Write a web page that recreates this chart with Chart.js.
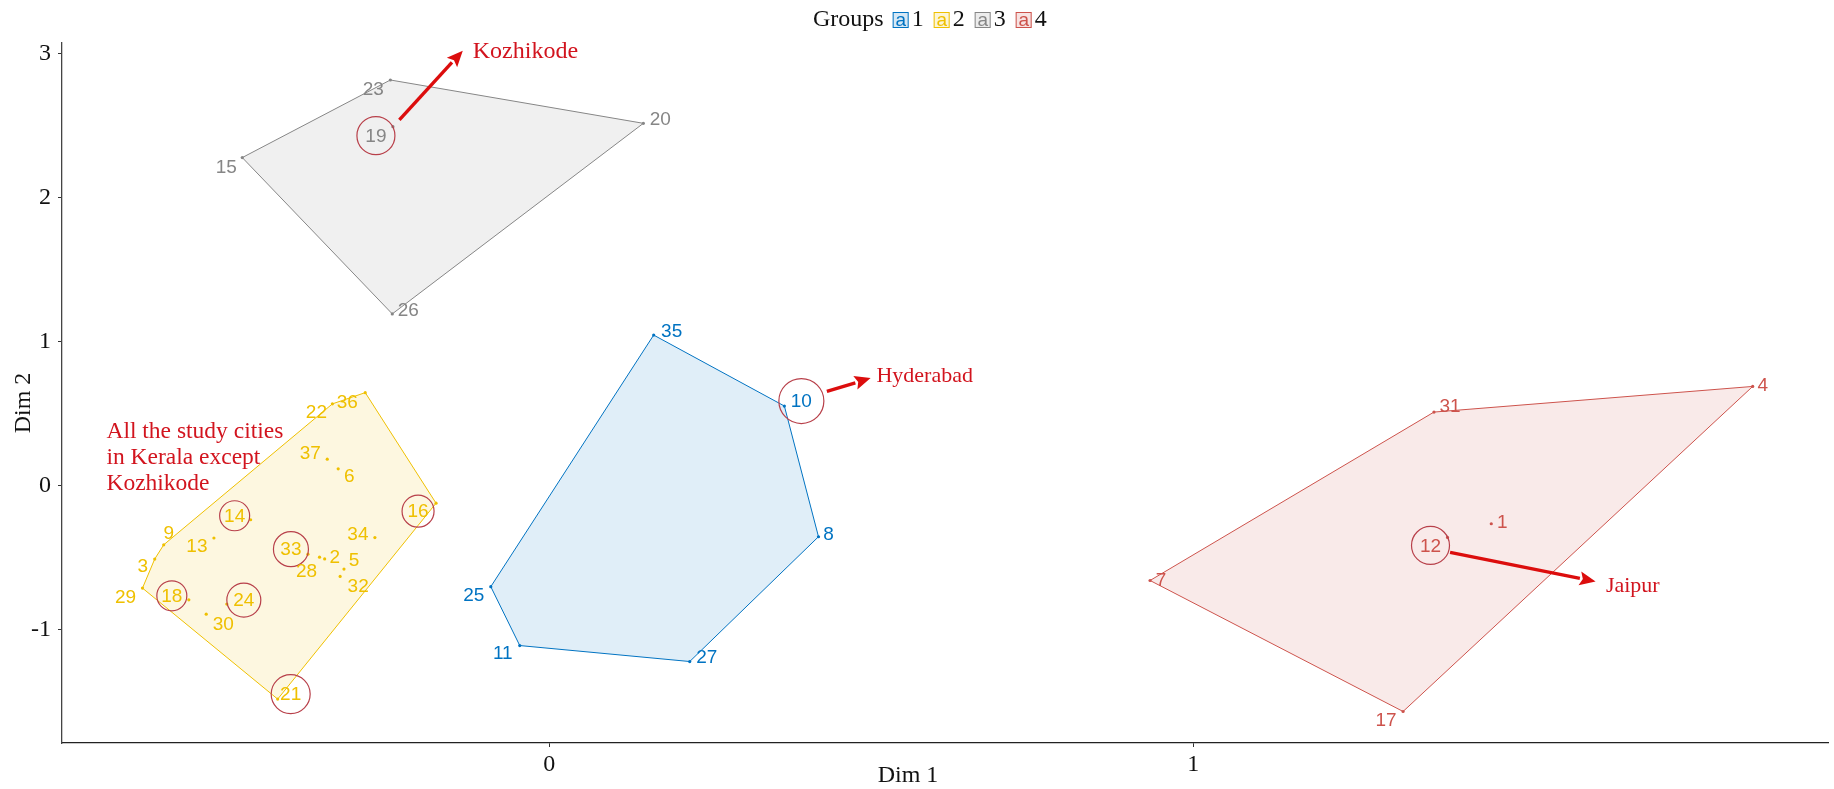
<!DOCTYPE html>
<html>
<head>
<meta charset="utf-8">
<script src="https://cdn.jsdelivr.net/npm/chart.js@4.4.0/dist/chart.umd.min.js"></script>
<style>
  html, body { margin: 0; padding: 0; background: #ffffff; }
  #wrap { width: 1834px; height: 789px; position: relative; }
</style>
</head>
<body>
<div id="wrap"><canvas id="c"></canvas></div>
<script>
// ---- Cluster members: city id, Dim 1, Dim 2 ----
const g1Ids  = [35, 10, 8, 27, 11, 25];
const g1Dim1 = [0.162, 0.365, 0.418, 0.218, -0.046, -0.091];
const g1Dim2 = [1.047, 0.554, -0.354, -1.221, -1.110, -0.701];
const g1Hull = [35, 10, 8, 27, 11, 25];

const g2Ids  = [22, 36, 37, 6, 16, 14, 34, 13, 9, 33, 28, 2, 5, 32, 3, 29, 18, 24, 30, 21];
const g2Dim1 = [-0.337, -0.286, -0.345, -0.328, -0.176, -0.464, -0.271, -0.521, -0.599, -0.375,
                -0.357, -0.349, -0.319, -0.325, -0.613, -0.632, -0.560, -0.501, -0.533, -0.422];
const g2Dim2 = [0.569, 0.647, 0.185, 0.118, -0.121, -0.236, -0.360, -0.363, -0.410, -0.475,
                -0.496, -0.508, -0.579, -0.630, -0.509, -0.711, -0.792, -0.822, -0.892, -1.482];
const g2Hull = [29, 3, 9, 22, 36, 16, 21];

const g3Ids  = [23, 20, 19, 15, 26];
const g3Dim1 = [-0.247, 0.146, -0.243, -0.477, -0.244];
const g3Dim2 = [2.819, 2.518, 2.495, 2.280, 1.194];
const g3Hull = [15, 23, 20, 26];

const g4Ids  = [4, 31, 1, 12, 7, 17];
const g4Dim1 = [1.869, 1.374, 1.463, 1.395, 0.933, 1.326];
const g4Dim2 = [0.690, 0.512, -0.264, -0.359, -0.658, -1.568];
const g4Hull = [7, 31, 4, 17];

const groupNames = ['1', '2', '3', '4'];
const xTickValues = [0, 1];
const yTickValues = [-1, 0, 1, 2, 3];
const xRange = [-0.757, 1.986];
const yRange = [-1.787, 3.076];

// Cities singled out with a ring
const circledIds = [19, 10, 14, 33, 16, 18, 24, 21, 12];

// Callouts: arrow from (x0,y0) to (x1,y1) in data units, caption at (tx,ty)
const calloutText = ['Kozhikode', 'Hyderabad', 'Jaipur'];
const calloutFrom = [[-0.233, 2.542], [0.431, 0.655], [1.399, -0.463]];
const calloutTo   = [[-0.1345, 3.023], [0.499, 0.748], [1.625, -0.665]];
const calloutAt   = [[-0.119, 3.016], [0.508, 0.759], [1.641, -0.699]];
const noteLines = ['All the study cities', 'in Kerala except', 'Kozhikode'];
const noteAt = [-0.688, 0.373];

// ---- Styling ----
const palette = ['#0073C2', '#EFC000', '#868686', '#CD534C'];
const fillAlpha = 0.12;
const labelFont = '19px "Liberation Sans", Arial, sans-serif';
const serif = '"Liberation Serif", "Times New Roman", serif';
const calloutSize = [24, 22, 22];
const noteSize = 23.5;
const noteRed = '#d2141e';
const ringColor = '#b8404a';

// label placement relative to the point (px), repelled away from neighbours
const labelNudge = {
  22: [-16, 8], 36: [-18, 9], 37: [-17, -6], 6: [11, 7], 16: [-18, 8], 14: [-16, -4],
  34: [-17, -4], 13: [-17, 8], 9: [5, -12], 33: [-17, -5], 28: [-13, 14], 2: [10, -2],
  5: [10, -9], 32: [18, 9], 3: [-12, 7], 29: [-17, 9], 18: [-17, -4], 24: [17, -4],
  30: [17, 10], 21: [13, -5],
  23: [-17, 9], 20: [17, -5], 19: [-17, 9], 15: [-16, 9], 26: [16, -4],
  35: [18, -4], 10: [17, -5], 8: [10, -3], 27: [17, -5], 11: [-17, 7], 25: [-17, 8],
  4: [10, -2], 31: [16, -6], 1: [11, -2], 12: [-17, 8], 7: [11, -1], 17: [-17, 8]
};
const ringRadius = { 19: 19, 10: 22.5, 14: 15, 33: 17.5, 16: 16, 18: 15, 24: 17, 21: 19.5, 12: 19 };

function hexA(hex, a) {
  const n = parseInt(hex.slice(1), 16);
  return `rgba(${(n >> 16) & 255},${(n >> 8) & 255},${n & 255},${a})`;
}

const groups = [
  { ids: g1Ids, d1: g1Dim1, d2: g1Dim2, hull: g1Hull },
  { ids: g2Ids, d1: g2Dim1, d2: g2Dim2, hull: g2Hull },
  { ids: g3Ids, d1: g3Dim1, d2: g3Dim2, hull: g3Hull },
  { ids: g4Ids, d1: g4Dim1, d2: g4Dim2, hull: g4Hull }
];

const datasets = [];
groups.forEach((g, i) => {
  const pts = g.ids.map((id, k) => ({ x: g.d1[k], y: g.d2[k], id }));
  const hullPts = g.hull.map(id => pts.find(p => p.id === id));
  hullPts.push(hullPts[0]);
  datasets.push({
    type: 'line',
    label: 'hull ' + groupNames[i],
    data: hullPts,
    borderColor: palette[i],
    borderWidth: 1,
    backgroundColor: hexA(palette[i], fillAlpha),
    fill: 'shape',
    pointRadius: 0,
    tension: 0,
    order: 3
  });
  datasets.push({
    type: 'scatter',
    label: groupNames[i],
    data: pts,
    backgroundColor: palette[i],
    borderColor: palette[i],
    pointRadius: 1.6,
    borderWidth: 0,
    order: 1
  });
});

function arrow(ctx, x0, y0, x1, y1, color) {
  const ang = Math.atan2(y1 - y0, x1 - x0);
  const headL = 16, headW = 7;
  const bx = x1 - headL * Math.cos(ang), by = y1 - headL * Math.sin(ang);
  ctx.save();
  ctx.strokeStyle = color; ctx.fillStyle = color;
  ctx.lineWidth = 3.4; ctx.lineCap = 'butt';
  ctx.beginPath(); ctx.moveTo(x0, y0); ctx.lineTo(bx, by); ctx.stroke();
  ctx.beginPath();
  ctx.moveTo(x1, y1);
  ctx.lineTo(bx + headW * Math.sin(ang), by - headW * Math.cos(ang));
  ctx.lineTo(bx + 3 * Math.cos(ang), by + 3 * Math.sin(ang));
  ctx.lineTo(bx - headW * Math.sin(ang), by + headW * Math.cos(ang));
  ctx.closePath(); ctx.fill();
  ctx.restore();
}

const decorations = {
  id: 'decorations',
  afterDatasetsDraw(chart) {
    const { ctx, scales: { x, y } } = chart;
    ctx.save();
    // point labels and rings
    ctx.font = labelFont;
    ctx.textAlign = 'center';
    ctx.textBaseline = 'middle';
    groups.forEach((g, i) => {
      g.ids.forEach((id, k) => {
        const px = x.getPixelForValue(g.d1[k]);
        const py = y.getPixelForValue(g.d2[k]);
        const [dx, dy] = labelNudge[id] || [10, -8];
        ctx.fillStyle = palette[i];
        ctx.fillText(String(id), px + dx, py + dy + 1);
        if (circledIds.includes(id)) {
          ctx.save();
          ctx.strokeStyle = ringColor;
          ctx.lineWidth = 1.2;
          ctx.beginPath();
          ctx.arc(px + dx, py + dy, ringRadius[id] || 18, 0, Math.PI * 2);
          ctx.stroke();
          ctx.restore();
        }
      });
    });
    // callout arrows and captions
    ctx.textAlign = 'left';
    calloutText.forEach((t, i) => {
      arrow(ctx,
        x.getPixelForValue(calloutFrom[i][0]), y.getPixelForValue(calloutFrom[i][1]),
        x.getPixelForValue(calloutTo[i][0]), y.getPixelForValue(calloutTo[i][1]), '#dc0d0d');
      ctx.fillStyle = noteRed;
      ctx.font = calloutSize[i] + 'px ' + serif;
      ctx.fillText(t, x.getPixelForValue(calloutAt[i][0]), y.getPixelForValue(calloutAt[i][1]));
    });
    ctx.font = noteSize + 'px ' + serif;
    const nx = x.getPixelForValue(noteAt[0]);
    const ny = y.getPixelForValue(noteAt[1]);
    noteLines.forEach((t, i) => ctx.fillText(t, nx, ny + i * 26));
    ctx.restore();
  },
  afterDraw(chart) {
    const { ctx } = chart;
    ctx.save();
    // axis titles
    ctx.fillStyle = '#111';
    ctx.font = '24px ' + serif;
    ctx.textAlign = 'center';
    ctx.textBaseline = 'middle';
    ctx.fillText('Dim 1', 908, 776);
    ctx.save();
    ctx.translate(24, 403);
    ctx.rotate(-Math.PI / 2);
    ctx.fillText('Dim 2', 0, 0);
    ctx.restore();
    // legend: title then keyed boxes
    let lx = 813;
    const ly = 20;
    ctx.textAlign = 'left';
    ctx.fillText('Groups', lx, ly);
    lx += ctx.measureText('Groups').width + 9;
    groupNames.forEach((name, i) => {
      ctx.fillStyle = hexA(palette[i], 0.16);
      ctx.fillRect(lx, ly - 8, 16, 16);
      ctx.strokeStyle = palette[i];
      ctx.lineWidth = 1;
      ctx.strokeRect(lx + 0.5, ly - 7.5, 15, 15);
      ctx.fillStyle = palette[i];
      ctx.font = '19px "Liberation Sans", Arial, sans-serif';
      ctx.textAlign = 'center';
      ctx.fillText('a', lx + 8, ly + 1);
      ctx.font = '24px ' + serif;
      ctx.textAlign = 'left';
      ctx.fillStyle = '#111';
      ctx.fillText(name, lx + 19, ly);
      lx += 19 + ctx.measureText(name).width + 10;
    });
    ctx.restore();
  }
};

new Chart(document.getElementById('c'), {
  type: 'scatter',
  data: { datasets },
  options: {
    responsive: true,
    maintainAspectRatio: false,
    animation: false,
    events: [],
    layout: { padding: { top: 43, right: 6, left: 0, bottom: 0 } },
    plugins: { legend: { display: false }, tooltip: { enabled: false } },
    scales: {
      x: {
        type: 'linear',
        min: xRange[0], max: xRange[1],
        afterBuildTicks: s => { s.ticks = xTickValues.map(v => ({ value: v })); },
        afterFit: s => { s.height = 46; },
        grid: { drawOnChartArea: false, drawTicks: true, tickLength: 4, tickColor: '#333' },
        border: { display: true, color: '#222', width: 1.3 },
        ticks: { color: '#111', padding: 3, font: { family: serif, size: 24 }, callback: v => String(v) }
      },
      y: {
        type: 'linear',
        min: yRange[0], max: yRange[1],
        afterBuildTicks: s => { s.ticks = yTickValues.map(v => ({ value: v })); },
        afterFit: s => { s.width = 62; },
        grid: { drawOnChartArea: false, drawTicks: true, tickLength: 4, tickColor: '#333' },
        border: { display: true, color: '#444', width: 1.3 },
        ticks: { color: '#111', padding: 7, font: { family: serif, size: 24 }, callback: v => String(v) }
      }
    }
  },
  plugins: [decorations]
});
</script>
</body>
</html>
